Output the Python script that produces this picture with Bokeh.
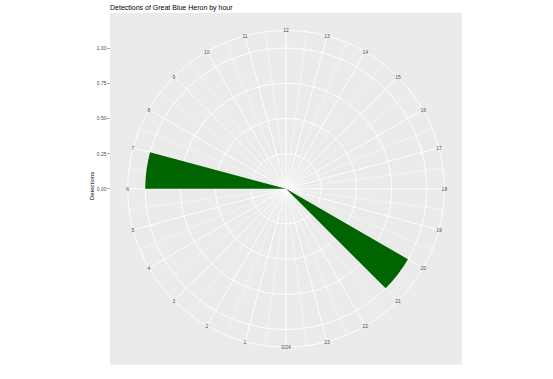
import numpy as np
from bokeh.plotting import figure
from bokeh.models import Range1d, FixedTicker, NumeralTickFormatter
from bokeh.core.properties import value
from bokeh.embed import file_html
from bokeh.resources import INLINE

# ---------------- data ----------------
title_text = "Detections of Great Blue Heron by hour"
y_title = "Detections"
hours = list(range(24))
detections = [0, 0, 0, 0, 0, 0, 1, 0, 0, 0, 0, 0, 0, 0, 0, 0, 0, 0, 0, 0, 1, 0, 0, 0]
theta_labels = ["0/24"] + [str(h) for h in range(1, 24)]
r_breaks = [0.0, 0.25, 0.5, 0.75, 1.0]
r_labels = ["0.00", "0.25", "0.50", "0.75", "1.00"]
theta_max = 24

# ---------------- layout ----------------
W, H = 545, 371
LEFT = 109
SCALE = 140.8          # px per r-unit (r max -> 0.4 of the panel)
CX, CY = 176.5, 188.3  # polar centre in frame pixels
FW, FH = W - LEFT, H
FONT = "Liberation Sans"
r_max = max(r_breaks)
outer = 0.45 / 0.4     # ggplot theta ring
half_panel = 0.5 / 0.4


def ang(h):
    return -np.pi / 2 - 2 * np.pi * np.asarray(h, dtype=float) / theta_max


p = figure(width=W, height=H, output_backend="svg", toolbar_location=None,
           x_range=Range1d(-CX / SCALE, (FW - CX) / SCALE),
           y_range=Range1d(-(FH - CY) / SCALE, CY / SCALE),
           x_axis_location=None, y_axis_location="left",
           min_border_left=LEFT, min_border_right=0,
           min_border_top=0, min_border_bottom=0)
p.outline_line_color = None
p.grid.visible = False
p.background_fill_color = "white"
p.border_fill_color = "white"

# panel background
p.quad(left=-half_panel, right=half_panel, bottom=-half_panel, top=half_panel,
       fill_color="#EBEBEB", line_color=None)

# theta grid lines
maj = ang(hours)
mino = ang(np.array(hours) + 0.5)
p.segment(x0=0, y0=0, x1=outer * np.cos(mino), y1=outer * np.sin(mino),
          line_color="white", line_width=0.45)
p.segment(x0=0, y0=0, x1=outer * np.cos(maj), y1=outer * np.sin(maj),
          line_color="white", line_width=0.9)

# r grid circles
radii = [b / r_max for b in r_breaks if b > 0] + [outer]
p.circle(x=[0] * len(radii), y=[0] * len(radii), radius=radii,
         fill_color=None, line_color="white", line_width=0.9)

# bars
hs = np.array([h for h, d in zip(hours, detections) if d > 0], dtype=float)
vs = np.array([d for d in detections if d > 0], dtype=float) / r_max
p.wedge(x=0, y=0, radius=vs, start_angle=ang(hs + 1), end_angle=ang(hs),
        fill_color="#006400", line_color=None)

# theta labels
ta = ang(hours)
p.text(x=outer * np.cos(ta), y=outer * np.sin(ta), text=theta_labels,
       text_align="center", text_baseline="middle",
       text_font=value(FONT), text_font_size="5px", text_color="#4D4D4D")

# title
p.text(x=[-half_panel], y=[(CY - 7.3) / SCALE], text=[title_text],
       text_align="left", text_baseline="alphabetic",
       text_font=value(FONT), text_font_size="7px", text_color="black")

# radial axis
ax = p.yaxis[0]
ax.ticker = FixedTicker(ticks=r_breaks)
ax.formatter = NumeralTickFormatter(format="0.00")
ax.major_label_overrides = {b: l for b, l in zip(r_breaks, r_labels)}
ax.axis_line_color = None
ax.major_tick_line_color = "#333333"
ax.major_tick_line_width = 0.6
ax.major_tick_out = 2
ax.major_tick_in = 0
ax.minor_tick_line_color = None
ax.major_label_text_font = FONT
ax.major_label_text_font_size = "5px"
ax.major_label_text_color = "#4D4D4D"
ax.major_label_standoff = 1
ax.axis_label = y_title
ax.axis_label_text_font = FONT
ax.axis_label_text_font_size = "6px"
ax.axis_label_text_font_style = "normal"
ax.axis_label_text_color = "black"
ax.axis_label_standoff = -1

open("out.html", "w").write(file_html(p, INLINE))
